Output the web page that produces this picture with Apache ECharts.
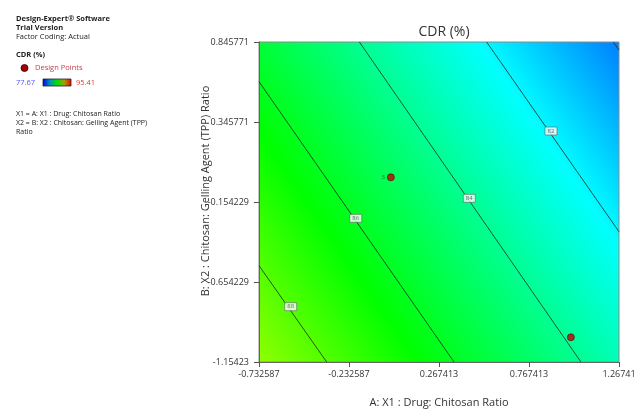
<!DOCTYPE html>
<html><head><meta charset="utf-8">
<script src="https://cdn.jsdelivr.net/npm/echarts@6/dist/echarts.min.js"></script>
<style>html,body{margin:0;padding:0;background:#fff}#c{width:638px;height:410px}</style>
</head><body><div id="c"></div>
<script>
// ---- data ----
const xTicks = [-0.732587, -0.232587, 0.267413, 0.767413, 1.267413];
const xTickLabels = ['-0.732587', '-0.232587', '0.267413', '0.767413', '1.26741'];
const yTicks = [-1.15423, -0.654229, -0.154229, 0.345771, 0.845771];
const yTickLabels = ['-1.15423', '-0.654229', '-0.154229', '0.345771', '0.845771'];
const contourLevels = [88, 86, 84, 82, 80];
const contourStart = [[-0.732587, -0.552], [-0.732587, 0.598], [-0.175, 0.845771], [0.532, 0.845771], [1.236, 0.845771]];
const contourEnd = [[-0.3565, -1.15423], [0.351, -1.15423], [1.056, -1.15423], [1.267413, -0.340], [1.267413, 0.796]];
const labelLevels = [88, 86, 84, 82];
const labelPos = [[-0.5565, -0.8086], [-0.1950, -0.2561], [0.4357, -0.1311], [0.8896, 0.2895]];
const designX = [0, 1];
const designY = [0, -1];
const designLabels = ['3', ''];
const legendMin = '77.67', legendMax = '95.41';

const FONT = '"Open Sans", "Noto Sans", sans-serif';
function nearestLabel(v, ticks, labels) {
  let bi = 0, bd = Infinity;
  ticks.forEach((t, i) => { const d = Math.abs(t - v); if (d < bd) { bd = d; bi = i; } });
  return labels[bi];
}

const chart = echarts.init(document.getElementById('c'), null, { renderer: 'canvas' });

const bgGrad = new echarts.graphic.LinearGradient(259, 362, 652, 90, [
  { offset: 0, color: 'rgb(144,255,0)' },
  { offset: 0.274, color: 'rgb(0,255,0)' },
  { offset: 0.759, color: 'rgb(0,255,255)' },
  { offset: 1, color: 'rgb(0,128,255)' }
], true);

const series = [];
contourLevels.forEach((lv, i) => {
  series.push({
    type: 'line', name: 'c' + lv, silent: true, symbol: 'none',
    data: [contourStart[i], contourEnd[i]],
    lineStyle: { color: '#1e2a1e', width: 0.8 }, z: 3
  });
});
series.push({
  type: 'scatter', silent: true, symbol: 'rect', symbolSize: [12, 8],
  data: labelPos.map((p, i) => ({ value: p, lv: labelLevels[i] })),
  itemStyle: { color: '#ffffff', borderColor: '#666', borderWidth: 0.8 },
  label: { show: true, position: 'inside', formatter: p => String(p.data.lv), fontSize: 6, color: '#444', fontFamily: FONT },
  z: 4
});
series.push({
  type: 'scatter', silent: true, symbol: 'circle', symbolSize: 7,
  data: designX.map((x, i) => ({ value: [x, designY[i]], lab: designLabels[i] })),
  itemStyle: { color: '#c40000', borderColor: '#5a0000', borderWidth: 0.8 },
  label: { show: true, position: 'left', distance: 2, formatter: p => p.data.lab, fontSize: 6, color: '#333', fontFamily: FONT },
  z: 5
});

const txt = (x, y, text, opts) => ({
  type: 'text', x: x, y: y, silent: true,
  style: Object.assign({ text: text, fill: '#222', fontSize: 7.5, fontFamily: FONT, verticalAlign: 'middle' }, opts || {})
});

chart.setOption({
  animation: false,
  backgroundColor: '#ffffff',
  title: {
    text: 'CDR (%)', left: 439, top: 20, textAlign: 'center',
    textStyle: { fontSize: 14, fontWeight: 'normal', color: '#333', fontFamily: FONT }
  },
  grid: {
    left: 259, top: 42, width: 360, height: 320, show: true, containLabel: false, outerBoundsMode: 'none',
    backgroundColor: bgGrad, borderWidth: 1, borderColor: '#8a8a8a'
  },
  xAxis: {
    type: 'value', min: xTicks[0], max: xTicks[xTicks.length - 1],
    name: 'A: X1 : Drug: Chitosan Ratio', nameLocation: 'middle', nameGap: 35, nameMoveOverlap: false,
    nameTextStyle: { fontSize: 11, color: '#333', fontFamily: FONT },
    axisLine: { show: true, onZero: false, lineStyle: { color: '#666', width: 1 } },
    axisTick: { show: true, length: 5, customValues: xTicks, lineStyle: { color: '#555' } },
    axisLabel: { customValues: xTicks, formatter: v => nearestLabel(v, xTicks, xTickLabels), fontSize: 9, color: '#333', margin: 8, fontFamily: FONT },
    splitLine: { show: false }
  },
  yAxis: {
    type: 'value', min: yTicks[0], max: yTicks[yTicks.length - 1],
    name: 'B: X2 : Chitosan: Gelling Agent (TPP) Ratio', nameLocation: 'middle', nameGap: 48, nameMoveOverlap: false,
    nameTextStyle: { fontSize: 11, color: '#333', fontFamily: FONT, padding: [0, 0, 0, 22] },
    axisLine: { show: true, onZero: false, lineStyle: { color: '#666', width: 1 } },
    axisTick: { show: true, length: 5, customValues: yTicks, lineStyle: { color: '#555' } },
    axisLabel: { customValues: yTicks, formatter: v => nearestLabel(v, yTicks, yTickLabels), fontSize: 9, color: '#333', margin: 10, fontFamily: FONT },
    splitLine: { show: false }
  },
  graphic: [
    txt(16, 19, 'Design-Expert® Software', { fontWeight: 'bold' }),
    txt(16, 28, 'Trial Version', { fontWeight: 'bold' }),
    txt(16, 37, 'Factor Coding: Actual'),
    txt(16, 55, 'CDR (%)', { fontWeight: 'bold' }),
    { type: 'circle', silent: true, shape: { cx: 24.5, cy: 68, r: 3.5 }, style: { fill: '#a80000', stroke: '#300000', lineWidth: 0.8 } },
    txt(35, 68, 'Design Points', { fill: '#c8404a' }),
    txt(16, 82.5, legendMin, { fill: '#5555ff' }),
    { type: 'rect', silent: true, shape: { x: 43, y: 79, width: 28, height: 7 },
      style: { stroke: '#222', lineWidth: 0.8,
        fill: new echarts.graphic.LinearGradient(0, 0, 1, 0, [
          { offset: 0, color: '#0000e0' }, { offset: 0.25, color: '#0090c0' }, { offset: 0.5, color: '#00e000' },
          { offset: 0.75, color: '#a0a000' }, { offset: 1, color: '#ee0000' }]) } },
    txt(76, 82.5, legendMax, { fill: '#e53935' }),
    txt(16, 114, 'X1 = A: X1 : Drug: Chitosan Ratio', { fontSize: 7 }),
    txt(16, 123, 'X2 = B: X2 : Chitosan: Gelling Agent (TPP)', { fontSize: 7 }),
    txt(16, 132, 'Ratio', { fontSize: 7 })
  ],
  series: series
});
</script>
</body></html>
